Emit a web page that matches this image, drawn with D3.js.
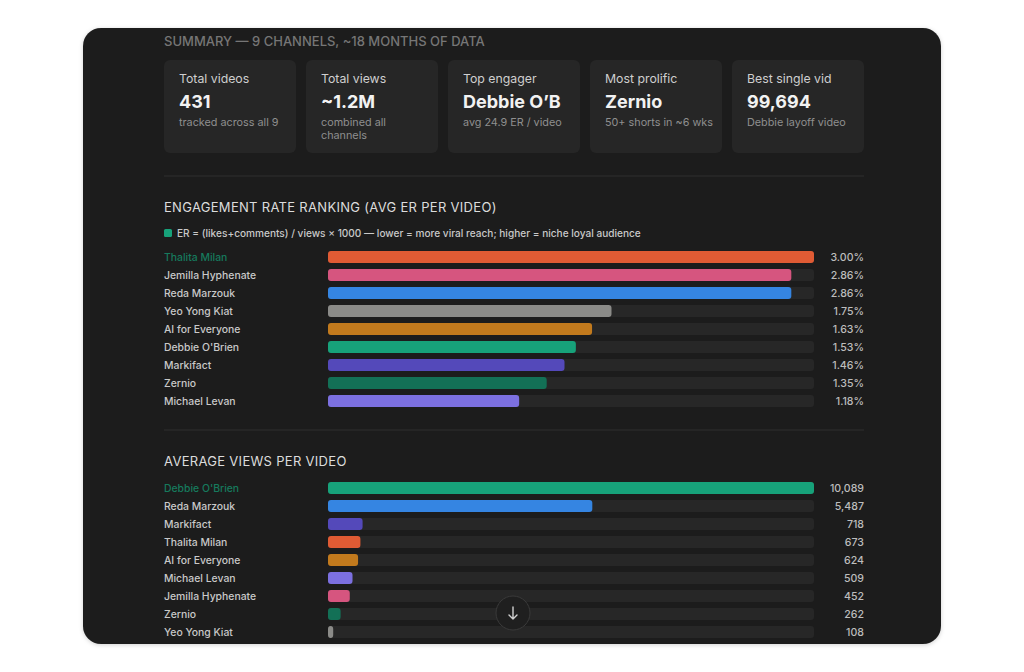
<!DOCTYPE html>
<html lang="en">
<head>
  <meta charset="UTF-8">
  <title>Channel summary</title>
  <script src="https://d3js.org/d3.v7.min.js"></script>
  <style>
    html, body {
      margin: 0;
      background: #fff;
    }
    svg {
      display: block;
      font-family: Inter, "Open Sans", sans-serif;
    }
    .sec-title {
      font-size: 13px;
      letter-spacing: 0.3px;
      fill: #dcdcdc;
    }
    .row-label {
      font-size: 10.4px;
      font-weight: 500;
      fill: #c9c9c9;
    }
    .row-value {
      font-size: 10.6px;
      font-weight: 500;
      fill: #bdbdbd;
      text-anchor: end;
    }
  </style>
</head>
<body>
  <svg width="1024" height="672"></svg>
  <script>
    // summary cards
    const cardLabels = ["Total videos", "Total views", "Top engager", "Most prolific", "Best single vid"];
    const cardValues = ["431", "~1.2M", "Debbie O\u2019B", "Zernio", "99,694"];
    const cardSubs = [["tracked across all 9"], ["combined all", "channels"], ["avg 24.9 ER / video"], ["50+ shorts in ~6 wks"], ["Debbie layoff video"]];

    // engagement rate ranking
    const erNames = ["Thalita Milan", "Jemilla Hyphenate", "Reda Marzouk", "Yeo Yong Kiat", "AI for Everyone", "Debbie O'Brien", "Markifact", "Zernio", "Michael Levan"];
    const erValues = [3.00, 2.86, 2.86, 1.75, 1.63, 1.53, 1.46, 1.35, 1.18];

    // average views per video
    const viewNames = ["Debbie O'Brien", "Reda Marzouk", "Markifact", "Thalita Milan", "AI for Everyone", "Michael Levan", "Jemilla Hyphenate", "Zernio", "Yeo Yong Kiat"];
    const viewValues = [10089, 5487, 718, 673, 624, 509, 452, 262, 108];

    const channelColor = {
      "Thalita Milan": "#e05b34",
      "Jemilla Hyphenate": "#d6557f",
      "Reda Marzouk": "#3585e2",
      "Yeo Yong Kiat": "#8b8b88",
      "AI for Everyone": "#c27a1d",
      "Debbie O'Brien": "#17a27a",
      "Markifact": "#5449ba",
      "Zernio": "#137056",
      "Michael Levan": "#7c70e0"
    };

    const svg = d3.select("svg");

    // panel
    const defs = svg.append("defs");
    const shadow = defs.append("filter").attr("id", "shadow")
      .attr("x", "-5%").attr("y", "-5%").attr("width", "110%").attr("height", "110%");
    shadow.append("feDropShadow").attr("dx", 0).attr("dy", 1).attr("stdDeviation", 2)
      .attr("flood-color", "#000").attr("flood-opacity", 0.18);
    defs.append("clipPath").attr("id", "panelClip")
      .append("rect").attr("x", 83).attr("y", 28).attr("width", 858).attr("height", 616).attr("rx", 18);

    svg.append("rect")
      .attr("x", 83).attr("y", 28).attr("width", 858).attr("height", 616).attr("rx", 18)
      .attr("fill", "#1c1c1c").attr("filter", "url(#shadow)");

    const g = svg.append("g").attr("clip-path", "url(#panelClip)");

    const left = 164, right = 864;

    g.append("text")
      .attr("x", left).attr("y", 46)
      .attr("font-size", 13).attr("font-weight", 500)
      .attr("fill", "#767676")
      .text("SUMMARY \u2014 9 CHANNELS, ~18 MONTHS OF DATA");

    // cards
    const cardX = d3.scaleBand().domain(d3.range(cardLabels.length)).range([left, right + 10]).paddingInner(0);
    const cardW = cardX.bandwidth() - 10;

    const card = g.selectAll("g.card").data(cardLabels).join("g")
      .attr("class", "card")
      .attr("transform", (d, i) => `translate(${cardX(i)},60)`);

    card.append("rect")
      .attr("width", cardW).attr("height", 93).attr("rx", 6)
      .attr("fill", "#262626");

    card.append("text")
      .attr("x", 15).attr("y", 23)
      .attr("font-size", 12.3).attr("fill", "#cfcfcf")
      .text(d => d);

    card.append("text")
      .attr("x", 15).attr("y", 48)
      .attr("font-size", 18).attr("font-weight", 700).attr("fill", "#f2f2f2")
      .text((d, i) => cardValues[i]);

    card.each(function(d, i) {
      d3.select(this).selectAll("text.sub").data(cardSubs[i]).join("text")
        .attr("class", "sub")
        .attr("x", 15).attr("y", (s, j) => 66 + j * 13)
        .attr("font-size", 10.8).attr("fill", "#8f8f8f")
        .text(s => s);
    });

    // dividers
    [176, 430].forEach(y => {
      g.append("line")
        .attr("x1", left).attr("x2", right).attr("y1", y).attr("y2", y)
        .attr("stroke", "#2e2e2e").attr("stroke-width", 1);
    });

    const barX0 = 328, barX1 = 814;

    function barChart(top, names, values, fmt) {
      const x = d3.scaleLinear().domain([0, d3.max(values)]).range([0, barX1 - barX0]);
      const y = d3.scaleBand().domain(names).range([top, top + names.length * 18]).paddingInner(0.333).paddingOuter(0.1667);

      const row = g.append("g").selectAll("g").data(names).join("g")
        .attr("transform", d => `translate(0,${y(d)})`);

      row.append("text")
        .attr("class", "row-label")
        .attr("x", left).attr("y", y.bandwidth() / 2).attr("dy", "0.35em")
        .style("fill", (d, i) => i === 0 ? "#167a5d" : null)
        .text(d => d);

      row.append("rect")
        .attr("x", barX0).attr("width", barX1 - barX0).attr("height", y.bandwidth()).attr("rx", 3)
        .attr("fill", "#272727");

      row.append("rect")
        .attr("x", barX0).attr("width", (d, i) => x(values[i])).attr("height", y.bandwidth()).attr("rx", 3)
        .attr("fill", d => channelColor[d]);

      row.append("text")
        .attr("class", "row-value")
        .attr("x", right).attr("y", y.bandwidth() / 2).attr("dy", "0.35em")
        .text((d, i) => fmt(values[i]));
    }

    // engagement section
    g.append("text").attr("class", "sec-title").attr("x", left).attr("y", 212)
      .text("ENGAGEMENT RATE RANKING (AVG ER PER VIDEO)");
    g.append("rect").attr("x", left).attr("y", 229).attr("width", 8).attr("height", 8).attr("rx", 1.5)
      .attr("fill", "#17a27a");
    g.append("text").attr("x", 177).attr("y", 233).attr("dy", "0.35em")
      .attr("font-size", 10.1).attr("font-weight", 500).attr("fill", "#c9c9c9")
      .text("ER = (likes+comments) / views \u00d7 1000 \u2014 lower = more viral reach; higher = niche loyal audience");

    barChart(248, erNames, erValues, v => v.toFixed(2) + "%");

    // views section
    g.append("text").attr("class", "sec-title").attr("x", left).attr("y", 466)
      .text("AVERAGE VIEWS PER VIDEO");

    barChart(479, viewNames, viewValues, d3.format(","));

    // scroll button
    const btn = g.append("g").attr("transform", "translate(513,613)");
    btn.append("circle").attr("r", 17).attr("fill", "#1f1f1f").attr("stroke", "#3a3a3a").attr("stroke-width", 1);
    btn.append("path").attr("d", "M0,-6 V6 M-4,2 L0,6 L4,2")
      .attr("fill", "none").attr("stroke", "#d0d0d0").attr("stroke-width", 1.4)
      .attr("stroke-linecap", "round").attr("stroke-linejoin", "round");
  </script>
</body>
</html>
